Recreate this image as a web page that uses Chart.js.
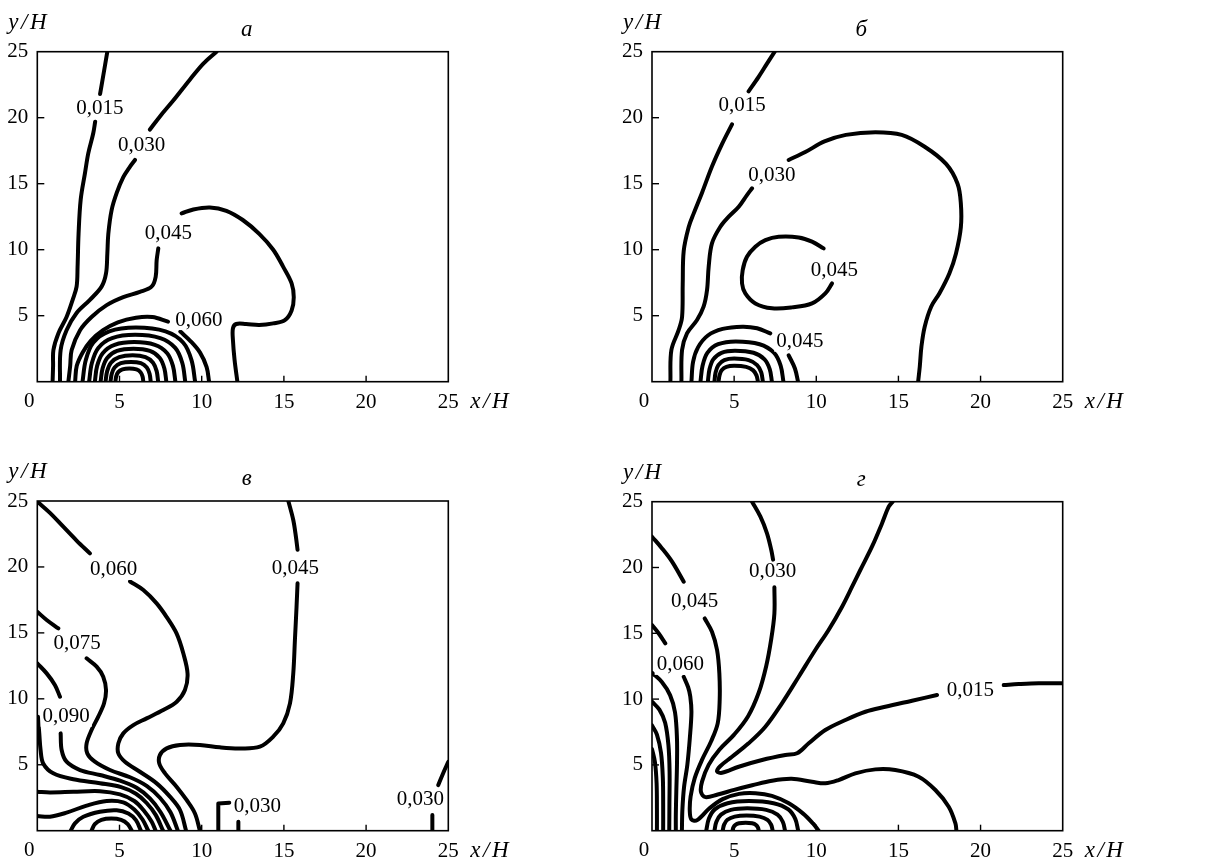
<!DOCTYPE html>
<html><head><meta charset="utf-8">
<script src="https://cdn.jsdelivr.net/npm/chart.js@4/dist/chart.umd.min.js"></script>
<style>
html,body{margin:0;padding:0;background:#fff;}
#wrap{position:relative;width:1224px;height:867px;background:#fff;}
canvas{position:absolute;}
</style></head><body>
<div id="wrap">
<canvas id="ca" width="612" height="433" style="left:0;top:0"></canvas>
<canvas id="cb" width="612" height="433" style="left:612px;top:0"></canvas>
<canvas id="cv" width="612" height="434" style="left:0;top:433px"></canvas>
<canvas id="cg" width="612" height="434" style="left:612px;top:433px"></canvas>
</div>
<script>
// ---------- tick values ----------
const xTicks = [0,5,10,15,20,25];
const yTicks = [5,10,15,20,25];
const innerTicks = [5,10,15,20];

// ---------- panel а ----------
const a_c015 = [[0.93,0],[0.96,1.2],[0.98,2.4],[1.28,3.66],[1.78,4.9],[2.15,6.2],[2.39,7.2],[2.45,8.7],[2.51,11.2],[2.64,13.8],[2.9,15.8],[3.1,17.3],[3.4,18.8],[3.52,19.7],null,[3.82,21.8],[4.0,23.1],[4.26,25]];
const a_c030 = [[1.38,0],[1.42,2.4],[1.78,3.9],[2.39,5.2],[3.2,6.2],[3.91,7.2],[4.18,8.2],[4.26,9.7],[4.32,11.2],[4.52,13.0],[4.83,14.3],[5.23,15.5],[5.64,16.3],[5.94,16.8],null,[6.85,19.1],[7.46,20.1],[8.27,21.3],[9.29,22.9],[10.1,24.1],[10.9,25]];
const a_c045 = [[1.89,0],[2.0,1.2],[2.09,2.4],[2.6,3.9],[3.3,4.9],[4.22,5.8],[5.23,6.4],[6.24,6.8],[6.95,7.2],[7.2,7.95],[7.26,9.2],[7.36,10.1],null,[8.78,12.75],[9.49,13.05],[10.5,13.2],[11.5,12.95],[12.5,12.25],[13.5,11.2],[14.35,10.0],[14.96,8.7],[15.47,7.45],[15.6,6.4],[15.47,5.4],[15.06,4.67],[14.35,4.42],[13.5,4.3],[12.7,4.37],[12.1,4.37],[11.9,4.04],[11.9,3.16],[12.0,1.64],[12.17,0]];
const a_c060 = [[2.3,0],[2.4,1.2],[2.75,2.2],[3.25,3.1],[4.0,3.9],[4.9,4.5],[6.0,4.85],[7.0,4.9],[7.95,4.55],null,[8.7,3.8],[9.3,3.1],[9.9,2.2],[10.3,1.1],[10.45,0]];
const a_c075 = [[2.75,0],[2.95,1.64],[3.4,2.95],[4.38,3.81],[6.0,4.1],[7.8,3.81],[8.88,2.95],[9.38,1.64],[9.6,0]];
const a_c090 = [[3.15,0],[3.32,1.42],[3.71,2.56],[4.55,3.3],[5.95,3.55],[7.48,3.3],[8.39,2.56],[8.82,1.42],[9.0,0]];
const a_c105 = [[3.5,0],[3.64,1.2],[3.98,2.16],[4.7,2.79],[5.9,3.0],[7.15,2.79],[7.9,2.16],[8.25,1.2],[8.4,0]];
const a_c120 = [[3.85,0],[3.97,1.0],[4.25,1.8],[4.85,2.33],[5.85,2.5],[6.85,2.33],[7.45,1.8],[7.73,1.0],[7.85,0]];
const a_c135 = [[4.15,0],[4.25,0.8],[4.48,1.44],[4.98,1.86],[5.8,2.0],[6.58,1.86],[7.04,1.44],[7.26,0.8],[7.35,0]];
const a_c150 = [[4.45,0],[4.53,0.6],[4.7,1.08],[5.08,1.4],[5.7,1.5],[6.3,1.4],[6.66,1.08],[6.83,0.6],[6.9,0]];
const a_c165 = [[4.75,0],[4.8,0.4],[4.92,0.72],[5.18,0.93],[5.6,1.0],[6.03,0.93],[6.28,0.72],[6.4,0.4],[6.45,0]];
const a_labels = [["0,015",3.81,20.7],["0,030",6.35,17.9],["0,045",7.97,11.2],["0,060",9.83,4.67]];

// ---------- panel б ----------
const b_c015 = [[1.12,0],[1.18,2.4],[1.62,3.9],[1.83,4.9],[1.87,7.4],[1.93,9.9],[2.23,11.7],[2.54,12.75],[3.04,14.3],[3.65,16.3],[4.26,18.0],[4.87,19.5],null,[5.88,22.0],[6.49,23.1],[7.0,24.1],[7.47,25]];
const b_c030 = [[1.79,0],[1.83,2.4],[2.13,3.66],[2.74,4.67],[3.14,5.68],[3.35,6.94],[3.45,8.71],[3.65,10.48],[4.16,11.74],[4.67,12.5],[5.28,13.26],[5.78,14.14],[6.09,14.65],null,[8.32,16.8],[9.33,17.4],[10.5,18.2],[11.8,18.7],[13.6,18.9],[15.2,18.7],[16.6,17.8],[17.9,16.5],[18.6,15.0],[18.8,13.5],[18.8,11.7],[18.5,9.7],[18.1,8.2],[17.5,6.7],[17.0,5.7],[16.6,4.17],[16.4,2.65],[16.3,1.14],[16.2,0]];
const b_c045loop = [[10.45,10.1],[9.74,10.61],[8.93,10.93],[7.71,10.98],[6.9,10.73],[6.29,10.23],[5.78,9.47],[5.52,8.46],[5.48,7.45],[5.68,6.69],[6.29,5.93],[7.31,5.56],[8.52,5.63],[9.74,5.93],[10.55,6.69],[10.96,7.45]];
const b_c045 = [[2.4,0],[2.5,1.5],[2.8,2.6],[3.4,3.5],[4.3,4.0],[5.5,4.17],[6.4,4.05],[7.2,3.66],null,[8.32,2.0],[8.7,1.0],[8.89,0]];
const b_c060 = [[2.95,0],[3.08,1.22],[3.38,2.2],[4.03,2.84],[5.1,3.05],[6.55,2.84],[7.42,2.2],[7.83,1.22],[8.0,0]];
const b_c075 = [[3.4,0],[3.5,0.94],[3.73,1.69],[4.23,2.19],[5.05,2.35],[6.18,2.19],[6.85,1.69],[7.17,0.94],[7.3,0]];
const b_c090 = [[3.8,0],[3.87,0.7],[4.04,1.26],[4.4,1.63],[5.0,1.75],[5.88,1.63],[6.4,1.26],[6.65,0.7],[6.75,0]];
const b_c105 = [[4.05,0],[4.11,0.48],[4.24,0.86],[4.53,1.12],[5.0,1.2],[5.73,1.12],[6.16,0.86],[6.36,0.48],[6.45,0]];
const b_labels = [["0,015",5.48,20.96],["0,030",7.3,15.66],["0,045",11.1,8.46],["0,045",9.0,3.03]];

// ---------- panel в ----------
const v_c045 = [[15.27,25],[15.57,23.56],[15.73,22.3],[15.83,21.3],null,[15.83,18.76],[15.77,17.0],[15.67,14.46],[15.57,11.93],[15.37,9.66],[14.96,8.14],[14.35,7.13],[13.54,6.37],[12.33,6.24],[11.1,6.32],[9.89,6.5],[8.68,6.5],[7.87,6.24],[7.46,5.74],[7.42,5.1],[7.77,4.35],[8.47,3.34],[9.08,2.33],[9.59,1.31],[9.89,0]];
const v_c060 = [[0,24.95],[0.77,24.1],[1.58,23.05],[2.39,22.0],[3.2,21.03],null,[5.64,18.9],[6.45,18.25],[7.26,17.24],[7.87,16.2],[8.47,14.96],[8.88,13.45],[9.14,11.9],[8.98,10.67],[8.48,9.78],[7.66,9.15],[6.65,8.52],[5.84,8.01],[5.23,7.38],[4.93,6.62],[4.93,5.86],[5.33,5.23],[6.24,4.47],[7.26,3.59],[8.07,2.58],[8.68,1.57],[9.05,0]];
const v_c075 = [[0,16.6],[0.57,15.98],[1.28,15.34],null,[3.0,13.07],[3.61,12.44],[4.01,11.68],[4.18,10.67],[4.06,9.66],[3.71,8.65],[3.3,7.63],[3.0,6.62],[3.04,5.86],[3.5,5.23],[4.42,4.6],[5.64,4.05],[6.65,3.4],[7.46,2.5],[8.1,1.4],[8.55,0]];
const v_c090 = [[0,12.69],[0.57,11.93],[1.07,11.05],[1.38,10.16],null,[1.42,7.38],[1.48,6.12],[1.78,5.23],[2.6,4.6],[3.81,4.22],[5.03,3.8],[6.04,3.25],[6.85,2.45],[7.5,1.4],[8.1,0]];
const v_c105 = [[0.04,8.64],[0.12,7.38],[0.2,6.12],[0.36,5.1],[0.97,4.35],[2.19,3.9],[3.81,3.6],[5.1,3.3],[6.0,2.8],[6.65,2.1],[7.2,1.2],[7.65,0]];
const v_c120 = [[0,2.96],[0.77,2.9],[2.19,2.95],[3.81,3.0],[5.03,2.75],[5.9,2.25],[6.5,1.5],[6.95,0.7],[7.2,0]];
const v_c135 = [[0,1.11],[0.77,1.06],[1.78,1.37],[3.0,1.9],[4.22,2.25],[5.23,2.15],[5.9,1.6],[6.4,0.85],[6.75,0]];
const v_c150 = [[2.03,0],[2.29,0.56],[2.8,1.06],[3.81,1.44],[4.83,1.55],[5.54,1.3],[6.0,0.8],[6.3,0]];
const v_c165 = [[3.3,0],[3.5,0.5],[3.9,0.82],[4.5,0.92],[5.1,0.82],[5.5,0.5],[5.75,0]];
const v_c030a = [[11.01,0],[11.01,2.07],[11.68,2.12]];
const v_c030b = [[12.23,0.68],[12.23,0]];
const v_c030c = [[25,5.23],[24.7,4.4],[24.39,3.46],null,[24.03,1.19],[24.03,0]];
const v_labels = [["0,060",4.64,19.77],["0,045",15.7,19.9],["0,075",2.43,14.16],["0,090",1.76,8.64],["0,030",13.38,1.82],["0,030",23.3,2.33]];

// ---------- panel г ----------
const g_c015 = [[14.65,25],[14.41,24.62],[14.0,23.35],[13.39,21.58],[12.68,19.81],[12.18,18.54],[11.57,17.02],[10.75,15.25],[9.94,13.73],[8.93,11.7],[7.91,9.68],[6.9,7.9],[5.88,6.64],[4.87,5.62],[4.15,4.9],[3.96,4.5],[4.26,4.4],[5.28,4.86],[6.7,5.37],[8.12,5.75],[8.83,5.88],[9.54,6.64],[10.55,7.65],[11.77,8.41],[12.99,9.04],[14.2,9.42],[15.83,9.88],[17.35,10.31],null,[21.41,11.07],[22.32,11.14],[23.54,11.2],[25,11.2]];
const g_c030 = [[6.09,25],[6.6,23.86],[7.0,22.6],[7.26,21.33],[7.37,20.6],null,[7.45,18.5],[7.45,16.5],[7.25,14.5],[6.95,12.5],[6.5,10.5],[5.85,8.7],[5.0,7.3],[4.1,6.15],[3.45,5.0],[3.05,3.75],[2.98,2.95],[3.25,2.55],[4.0,2.75],[5.0,3.1],[6.1,3.45],[7.3,3.8],[8.5,3.95],[9.74,3.72],[10.55,3.6],[11.36,3.85],[12.38,4.36],[13.6,4.66],[14.81,4.61],[16.23,4.1],[17.25,3.09],[18.06,1.82],[18.47,0.56],[18.53,0]];
const g_c045 = [[0,22.34],[0.61,21.45],[1.22,20.44],[1.93,18.92],null,[3.21,16.13],[3.65,15.12],[3.96,13.73],[4.1,11.96],[4.12,9.93],[4.0,8.16],[3.6,6.8],[3.05,5.4],[2.6,4.0],[2.35,2.6],[2.3,1.5],[2.4,0.85],[2.75,0.8],[3.5,1.7],[4.3,2.4],[5.3,2.8],[6.3,2.85],[7.3,2.65],[8.3,2.1],[9.2,1.3],[9.8,0.55],[10.15,0]];
const g_c060 = [[0,15.63],[0.4,15.0],[0.81,14.24],null,[1.93,11.7],[2.2,10.9],[2.33,10.2],[2.4,9.0],[2.3,7.0],[2.15,5.0],[1.95,3.3],[1.85,1.6],[1.82,0]];
const g_c075 = [[0,12.0],[0.6,11.3],[1.1,10.3],[1.4,9.0],[1.52,7.0],[1.52,5.0],[1.48,3.0],[1.45,1.2],[1.45,0]];
const g_c090 = [[0,9.8],[0.45,9.2],[0.8,8.2],[1.0,6.5],[1.07,4.5],[1.06,2.0],[1.05,0]];
const g_c105 = [[0,8.0],[0.3,7.3],[0.55,5.9],[0.66,4.0],[0.68,2.0],[0.68,0]];
const g_c120 = [[0,6.2],[0.18,5.2],[0.28,3.6],[0.3,1.6],[0.3,0]];
const g_d1 = [[3.3,0],[3.46,0.9],[3.82,1.62],[4.6,2.09],[5.9,2.25],[7.4,2.09],[8.3,1.62],[8.72,0.9],[8.9,0]];
const g_d2 = [[3.8,0],[3.92,0.68],[4.2,1.22],[4.8,1.58],[5.8,1.7],[6.95,1.58],[7.64,1.22],[7.96,0.68],[8.1,0]];
const g_d3 = [[4.3,0],[4.39,0.46],[4.59,0.83],[5.03,1.07],[5.75,1.15],[6.55,1.07],[7.03,0.83],[7.25,0.46],[7.35,0]];
const g_d4 = [[4.9,0],[4.95,0.24],[5.06,0.43],[5.3,0.56],[5.7,0.6],[6.1,0.56],[6.34,0.43],[6.45,0.24],[6.5,0]];
const g_labels = [["0,045",2.6,17.4],["0,030",7.35,19.68],["0,060",1.72,12.6],["0,015",19.38,10.69]];

// ---------- layout ----------
const panels = [
  {id:'ca', title:'а', curves:[a_c015,a_c030,a_c045,a_c060,a_c075,a_c090,a_c105,a_c120,a_c135,a_c150,a_c165], sharp:[], labels:a_labels, area:{l:37.3,r:448.3,t:51.7,b:381.7}, w:612, h:433},
  {id:'cb', title:'б', curves:[b_c015,b_c030,b_c045loop,b_c045,b_c060,b_c075,b_c090,b_c105], sharp:[], labels:b_labels, area:{l:40,r:450.7,t:51.7,b:381.7}, w:612, h:433},
  {id:'cv', title:'в', curves:[v_c045,v_c060,v_c075,v_c090,v_c105,v_c120,v_c135,v_c150,v_c165,v_c030b,v_c030c], sharp:[v_c030a], labels:v_labels, area:{l:37.3,r:448.3,t:68,b:397.7}, w:612, h:434},
  {id:'cg', title:'г', curves:[g_c015,g_c030,g_c045,g_c060,g_c075,g_c090,g_c105,g_c120,g_d1,g_d2,g_d3,g_d4], sharp:[], labels:g_labels, area:{l:40,r:450.7,t:68.7,b:397.7}, w:612, h:434}
];

const SERIF = '"Liberation Serif", "DejaVu Serif", serif';
const LW = 4;
const FS = 21;

function splitSegs(arr){
  const out=[]; let cur=[];
  for (const p of arr){
    if (p===null){ if(cur.length) out.push(cur); cur=[]; }
    else cur.push({x:p[0], y:p[1]});
  }
  if (cur.length) out.push(cur);
  return out;
}

function spaced(ctx, parts, x, y, gap){
  let cx = x;
  for (const t of parts){ ctx.fillText(t, cx, y); cx += ctx.measureText(t).width + gap; }
}

const info = {};
const deco = {
  id:'deco',
  afterDraw(chart){
    const inf = info[chart.canvas.id];
    const {ctx, chartArea:a} = chart;
    const xs = chart.scales.x, ys = chart.scales.y;
    ctx.save();
    ctx.strokeStyle='#000'; ctx.lineWidth=1.6;
    ctx.strokeRect(a.left, a.top, a.right-a.left, a.bottom-a.top);
    ctx.lineWidth=1.4;
    for (const v of innerTicks){
      const px = xs.getPixelForValue(v);
      ctx.beginPath(); ctx.moveTo(px, a.bottom); ctx.lineTo(px, a.bottom-6); ctx.stroke();
      const py = ys.getPixelForValue(v);
      ctx.beginPath(); ctx.moveTo(a.left, py); ctx.lineTo(a.left+7, py); ctx.stroke();
    }
    ctx.font = FS + 'px ' + SERIF;
    ctx.textAlign='center'; ctx.textBaseline='middle';
    for (const [t,vx,vy] of inf.labels){
      const px = xs.getPixelForValue(vx), py = ys.getPixelForValue(vy);
      const w = ctx.measureText(t).width;
      ctx.fillStyle='#fff'; ctx.fillRect(px-w/2-2, py-9, w+4, 19);
      ctx.fillStyle='#000'; ctx.fillText(t, px, py);
    }
    ctx.fillStyle='#000';
    ctx.fillText('0', a.left-8, a.bottom+20);
    ctx.font = 'italic 23px ' + SERIF;
    ctx.fillText(inf.title, (a.left+a.right)/2 + 4, a.top-22);
    ctx.textAlign='left';
    spaced(ctx, ['y','/','H'], a.left-29, a.top-29, 2.5);
    spaced(ctx, ['x','/','H'], a.right+22, a.bottom+20, 2.5);
    ctx.restore();
  }
};

for (const p of panels){
  info[p.id] = p;
  const datasets = [];
  const add = (arr, tension) => {
    for (const s of splitSegs(arr)){
      datasets.push({data:s, showLine:true, borderColor:'#000', backgroundColor:'#000', borderWidth:LW, pointRadius:0, pointHoverRadius:0, tension:tension, fill:false, borderCapStyle:'round', borderJoinStyle:'round', clip:0});
    }
  };
  p.curves.forEach(c => add(c, 0.35));
  p.sharp.forEach(c => add(c, 0));
  const A = p.area;
  new Chart(document.getElementById(p.id), {
    type:'scatter',
    data:{datasets},
    options:{
      responsive:false, animation:false, devicePixelRatio:1,
      layout:{padding:{left:0, top:A.t, right:p.w-A.r, bottom:0}},
      plugins:{legend:{display:false}, tooltip:{enabled:false}, title:{display:false}},
      events:[],
      scales:{
        x:{type:'linear', min:0, max:25,
           afterBuildTicks(s){ s.ticks = xTicks.map(v=>({value:v})); },
           afterFit(s){ s.height = p.h - A.b; },
           ticks:{callback:(v)=> v===0 ? '' : String(v), font:{family:SERIF, size:FS}, color:'#000', padding:8, maxRotation:0, autoSkip:false},
           grid:{display:false, drawTicks:false}, border:{display:false}},
        y:{type:'linear', min:0, max:25,
           afterBuildTicks(s){ s.ticks = yTicks.map(v=>({value:v})); },
           afterFit(s){ s.width = A.l; },
           ticks:{font:{family:SERIF, size:FS}, color:'#000', padding:9, autoSkip:false},
           grid:{display:false, drawTicks:false}, border:{display:false}}
      }
    },
    plugins:[deco]
  });
}
</script>
</body></html>
